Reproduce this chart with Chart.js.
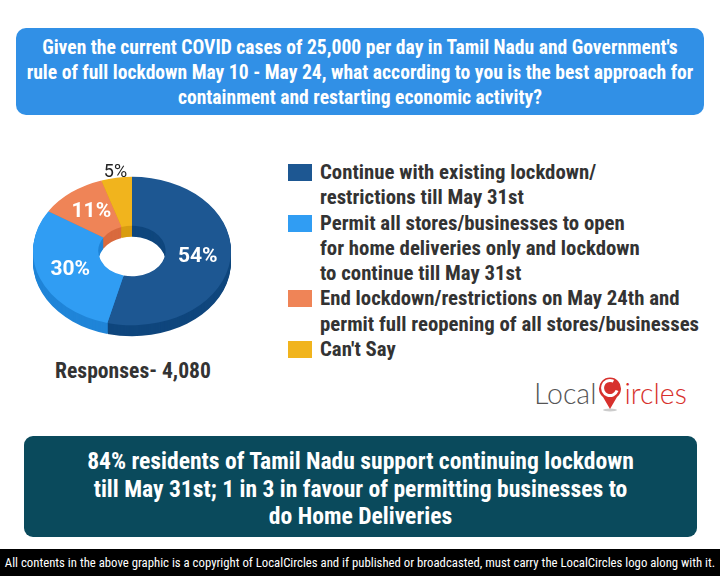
<!DOCTYPE html>
<html>
<head>
<meta charset="utf-8">
<script src="https://cdn.jsdelivr.net/npm/chart.js@4.4.1/dist/chart.umd.min.js"></script>
<style>
  body { margin: 0; width: 720px; height: 576px; position: relative; overflow: hidden; background: #fff;
         font-family: "Roboto Condensed", "Liberation Sans Narrow", "DejaVu Sans Condensed", Roboto, sans-serif; }
  .title { position: absolute; left: 16px; top: 28px; width: 688px; height: 87px; border-radius: 10px;
           background: #3190e6; color: #fff; font-weight: bold; font-size: 19.6px; line-height: 25px;
           text-align: center; box-sizing: border-box; padding-top: 7px; white-space: nowrap; }
  #pie { position: absolute; left: 32px; top: 151px; }
  .responses { position: absolute; left: 33px; width: 200px; top: 358px; text-align: center;
               font-weight: bold; font-size: 21.6px; color: #333; }
  #legend { position: absolute; left: 288px; top: 160px; color: #333; font-weight: bold; font-size: 20.8px; line-height: 25.3px; white-space: nowrap; }
  .item { display: flex; align-items: flex-start; }
  .box { width: 24px; height: 17px; margin: 4px 8px 0 0; flex: none; }
  .logo { position: absolute; left: 534px; top: 373px; height: 40px; display: flex; align-items: center;
          font-family: Lato, "Open Sans", sans-serif; font-size: 28.5px; color: #555; font-weight: 300; }
  .logo .red { color: #d7312d; }
  .summary { position: absolute; left: 24px; top: 436px; width: 673px; height: 101px; border-radius: 9px;
             background: #0a4a5c; color: #fff; font-weight: bold; font-size: 23.6px; line-height: 27.5px;
             text-align: center; box-sizing: border-box; padding-top: 12px; white-space: nowrap; }
  .footer { position: absolute; left: 0; top: 549px; width: 720px; height: 27px; background: #000; color: #fff;
            font-size: 12.75px; line-height: 27px; text-align: center; white-space: nowrap; }
</style>
</head>
<body>
<div class="title">Given the current COVID cases of 25,000 per day in Tamil Nadu and Government's<br>rule of full lockdown May 10 - May 24, what according to you is the best approach for<br>containment and restarting economic activity?</div>

<canvas id="pie" width="200" height="200"></canvas>
<div class="responses">Responses- 4,080</div>
<div id="legend"></div>

<div class="logo">Local<svg width="26" height="40" viewBox="0 0 24 40" style="margin:0 1px">
  <ellipse cx="12" cy="37" rx="7" ry="1.5" fill="#ccc"/>
  <path d="M12 36 L5 24 A11 11 0 1 1 19 24 Z" fill="#d7312d"/>
  <circle cx="12" cy="15" r="7.5" fill="none" stroke="#fff" stroke-width="3" stroke-dasharray="36 12" transform="rotate(20 12 15)"/>
</svg><span class="red">ircles</span></div>

<div class="summary">84% residents of Tamil Nadu support continuing lockdown<br>till May 31st; 1 in 3 in favour of permitting businesses to<br>do Home Deliveries</div>
<div class="footer">All contents in the above graphic is a copyright of LocalCircles and if published or broadcasted, must carry the LocalCircles logo along with it.</div>

<script>
const labels = [
  ['Continue with existing lockdown/', 'restrictions till May 31st'],
  ['Permit all stores/businesses to open', 'for home deliveries only and lockdown', 'to continue till May 31st'],
  ['End lockdown/restrictions on May 24th and', 'permit full reopening of all stores/businesses'],
  ["Can't Say"]
];
const values = [54, 30, 11, 5];
const colors = ['#1d5792', '#309df3', '#ef8457', '#f1b41d'];
const sideColors = ['#0f467d', '#2085d8', '#d96a3e', '#d99d10'];

const TILT = 0.75;
const DEPTH = 11;

// legend
const legend = document.getElementById('legend');
labels.forEach((lines, i) => {
  const row = document.createElement('div');
  row.className = 'item';
  row.innerHTML = '<div class="box" style="background:' + colors[i] + '"></div><div>' + lines.join('<br>') + '</div>';
  legend.appendChild(row);
});

function ringPath(ctx, a) {
  ctx.beginPath();
  ctx.arc(a.x, a.y, a.outerRadius, a.startAngle, a.endAngle);
  ctx.arc(a.x, a.y, a.innerRadius, a.endAngle, a.startAngle, true);
  ctx.closePath();
}

// squash the doughnut into an ellipse and give it some thickness
const tilt3d = {
  id: 'tilt3d',
  beforeDatasetsDraw(chart) {
    const ctx = chart.ctx;
    const arcs = chart.getDatasetMeta(0).data;
    const { x, y } = arcs[0];
    for (let d = DEPTH; d > 0; d--) {
      ctx.save();
      ctx.translate(x, y + d);
      ctx.scale(1, TILT);
      ctx.translate(-x, -y);
      arcs.forEach((a, i) => {
        ringPath(ctx, a);
        ctx.fillStyle = sideColors[i];
        ctx.fill();
      });
      ctx.restore();
    }
    ctx.save();
    ctx.translate(x, y);
    ctx.scale(1, TILT);
    ctx.translate(-x, -y);
  },
  afterDatasetsDraw(chart) {
    const ctx = chart.ctx;
    ctx.restore();
    const arcs = chart.getDatasetMeta(0).data;
    ctx.save();
    ctx.textAlign = 'center';
    ctx.textBaseline = 'middle';
    arcs.forEach((a, i) => {
      let px, py;
      if (values[i] >= 10) {
        const p = a.tooltipPosition();
        px = p.x;
        py = a.y + (p.y - a.y) * TILT;
        ctx.fillStyle = '#fff';
        ctx.font = 'bold 21px Roboto';
      } else {
        const mid = (a.startAngle + a.endAngle) / 2;
        const r = a.outerRadius + 7;
        px = a.x + Math.cos(mid) * r;
        py = a.y + Math.sin(mid) * r * TILT;
        ctx.fillStyle = '#222';
        ctx.font = '18px Roboto';
      }
      ctx.fillText(values[i] + '%', px, py);
    });
    ctx.restore();
  }
};

new Chart(document.getElementById('pie'), {
  type: 'doughnut',
  data: {
    labels: labels.map(l => l.join(' ')),
    datasets: [{
      data: values,
      backgroundColor: colors,
      borderWidth: 0
    }]
  },
  options: {
    responsive: false,
    animation: false,
    cutout: '34%',
    layout: { padding: 1 },
    plugins: {
      legend: { display: false },
      tooltip: { enabled: false }
    }
  },
  plugins: [tilt3d]
});
</script>
</body>
</html>
